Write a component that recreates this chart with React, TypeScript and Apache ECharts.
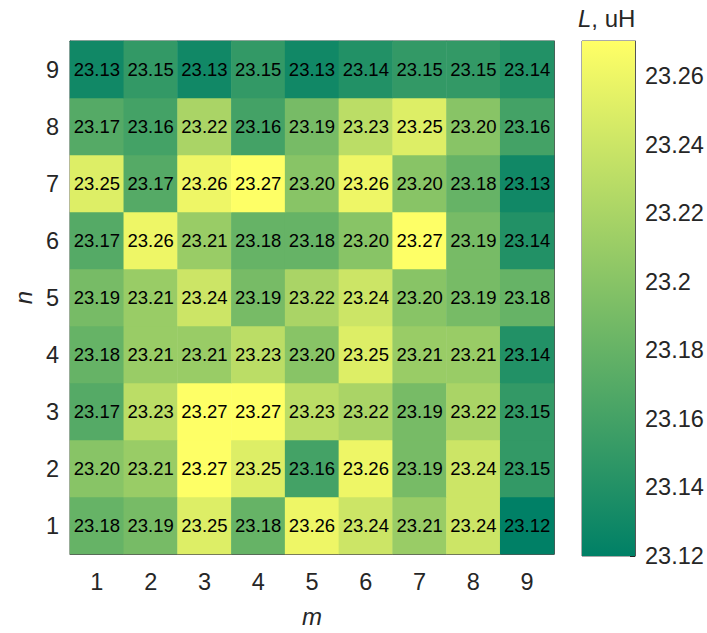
import React, { useEffect, useRef } from "react";
import * as echarts from "echarts";

const mLabels = ["1", "2", "3", "4", "5", "6", "7", "8", "9"];
const nLabels = ["1", "2", "3", "4", "5", "6", "7", "8", "9"];

// rows indexed by n (1..9), columns by m (1..9)
const row1 = [23.18, 23.19, 23.25, 23.18, 23.26, 23.24, 23.21, 23.24, 23.12];
const row2 = [23.20, 23.21, 23.27, 23.25, 23.16, 23.26, 23.19, 23.24, 23.15];
const row3 = [23.17, 23.23, 23.27, 23.27, 23.23, 23.22, 23.19, 23.22, 23.15];
const row4 = [23.18, 23.21, 23.21, 23.23, 23.20, 23.25, 23.21, 23.21, 23.14];
const row5 = [23.19, 23.21, 23.24, 23.19, 23.22, 23.24, 23.20, 23.19, 23.18];
const row6 = [23.17, 23.26, 23.21, 23.18, 23.18, 23.20, 23.27, 23.19, 23.14];
const row7 = [23.25, 23.17, 23.26, 23.27, 23.20, 23.26, 23.20, 23.18, 23.13];
const row8 = [23.17, 23.16, 23.22, 23.16, 23.19, 23.23, 23.25, 23.20, 23.16];
const row9 = [23.13, 23.15, 23.13, 23.15, 23.13, 23.14, 23.15, 23.15, 23.14];
const rows = [row1, row2, row3, row4, row5, row6, row7, row8, row9];

const cMin = 23.12;
const cMax = 23.2703;
const cInterval = 0.02;
const lowColor = "#008066";
const highColor = "#ffff66";

const FONT = "Liberation Sans, Arial, Helvetica, sans-serif";
const TXT = "#262626";
const TICK_FS = 23.5;

export default function App() {
  const ref = useRef<HTMLDivElement>(null);
  useEffect(() => {
    if (!ref.current) return;
    const chart = echarts.init(ref.current, undefined, { renderer: "svg" });
    const data: any[] = [];
    rows.forEach((r, ni) => r.forEach((v, mi) => data.push([mi, ni, v])));

    const tickStyle = { show: true, inside: true, length: 5, alignWithLabel: true, lineStyle: { color: TXT, width: 1 } };
    const lineStyle = { show: true, lineStyle: { color: "#555", width: 1 } };

    chart.setOption({
      animation: false,
      textStyle: { fontFamily: FONT },
      grid: [
        { left: 70, top: 41, width: 484, height: 515, show: true, borderColor: "#555", borderWidth: 1, backgroundColor: "transparent" },
        { left: 582, top: 41, width: 53, height: 515, show: true, borderColor: "#555", borderWidth: 1, backgroundColor: "transparent" },
      ],
      visualMap: {
        show: false,
        min: cMin,
        max: cMax,
        seriesIndex: 0,
        inRange: { color: [lowColor, highColor] },
      },
      xAxis: [
        {
          type: "category", gridIndex: 0, data: mLabels, position: "bottom",
          axisLine: lineStyle, axisTick: tickStyle, splitLine: { show: false },
          axisLabel: { fontSize: TICK_FS, color: TXT, margin: 16, fontFamily: FONT },
          name: "m", nameLocation: "middle", nameGap: 50,
          nameTextStyle: { fontSize: 24, fontStyle: "italic", color: TXT, fontFamily: FONT },
        },
        {
          type: "category", gridIndex: 0, data: mLabels, position: "top",
          axisLine: lineStyle, axisTick: tickStyle, axisLabel: { show: false },
        },
        {
          type: "category", gridIndex: 1, data: ["c"], show: false,
        },
      ],
      yAxis: [
        {
          type: "category", gridIndex: 0, data: nLabels, position: "left",
          axisLine: lineStyle, axisTick: tickStyle, splitLine: { show: false },
          axisLabel: { fontSize: TICK_FS, color: TXT, margin: 11, fontFamily: FONT },
          name: "n", nameLocation: "middle", nameGap: 28, nameRotate: 90,
          nameTextStyle: { fontSize: 24, fontStyle: "italic", color: TXT, fontFamily: FONT },
        },
        {
          type: "category", gridIndex: 0, data: nLabels, position: "right",
          axisLine: lineStyle, axisTick: tickStyle, axisLabel: { show: false },
        },
        {
          type: "value", gridIndex: 1, position: "right", min: cMin, max: cMax, interval: cInterval,
          axisLine: lineStyle,
          axisTick: { show: true, inside: true, length: 5, lineStyle: { color: TXT } },
          splitLine: { show: false },
          axisLabel: {
            fontSize: TICK_FS, color: TXT, margin: 10, fontFamily: FONT, showMaxLabel: false,
            formatter: (v: number) => String(parseFloat(v.toFixed(2))),
          },
        },
      ],
      series: [
        {
          type: "heatmap",
          xAxisIndex: 0,
          yAxisIndex: 0,
          data,
          label: {
            show: true,
            color: "#000",
            fontSize: 18.5,
            fontFamily: FONT,
            formatter: (p: any) => p.value[2].toFixed(2),
          },
          itemStyle: { borderWidth: 0 },
        },
        {
          type: "custom",
          xAxisIndex: 2,
          yAxisIndex: 2,
          data: [[0, cMax]],
          renderItem: (params: any, api: any) => {
            const p0 = api.coord([0, cMin]);
            const p1 = api.coord([0, cMax]);
            const w = api.size([1, 0])[0];
            return {
              type: "rect",
              shape: { x: p0[0] - w / 2, y: p1[1], width: w, height: p0[1] - p1[1] },
              style: {
                fill: new echarts.graphic.LinearGradient(0, 1, 0, 0, [
                  { offset: 0, color: lowColor },
                  { offset: 1, color: highColor },
                ]),
              },
            };
          },
          z: 1,
        },
      ],
      graphic: [
        {
          type: "text",
          left: 578,
          top: 6,
          style: {
            text: "{i|L}, uH",
            fontSize: 24,
            fill: TXT,
            fontFamily: FONT,
            rich: { i: { fontStyle: "italic", fontSize: 24, fill: TXT, fontFamily: FONT } },
          },
        },
      ],
    });
    return () => chart.dispose();
  }, []);
  return <div ref={ref} style={{ width: 707, height: 633, position: "absolute", left: 0, top: 0 }} />;
}
